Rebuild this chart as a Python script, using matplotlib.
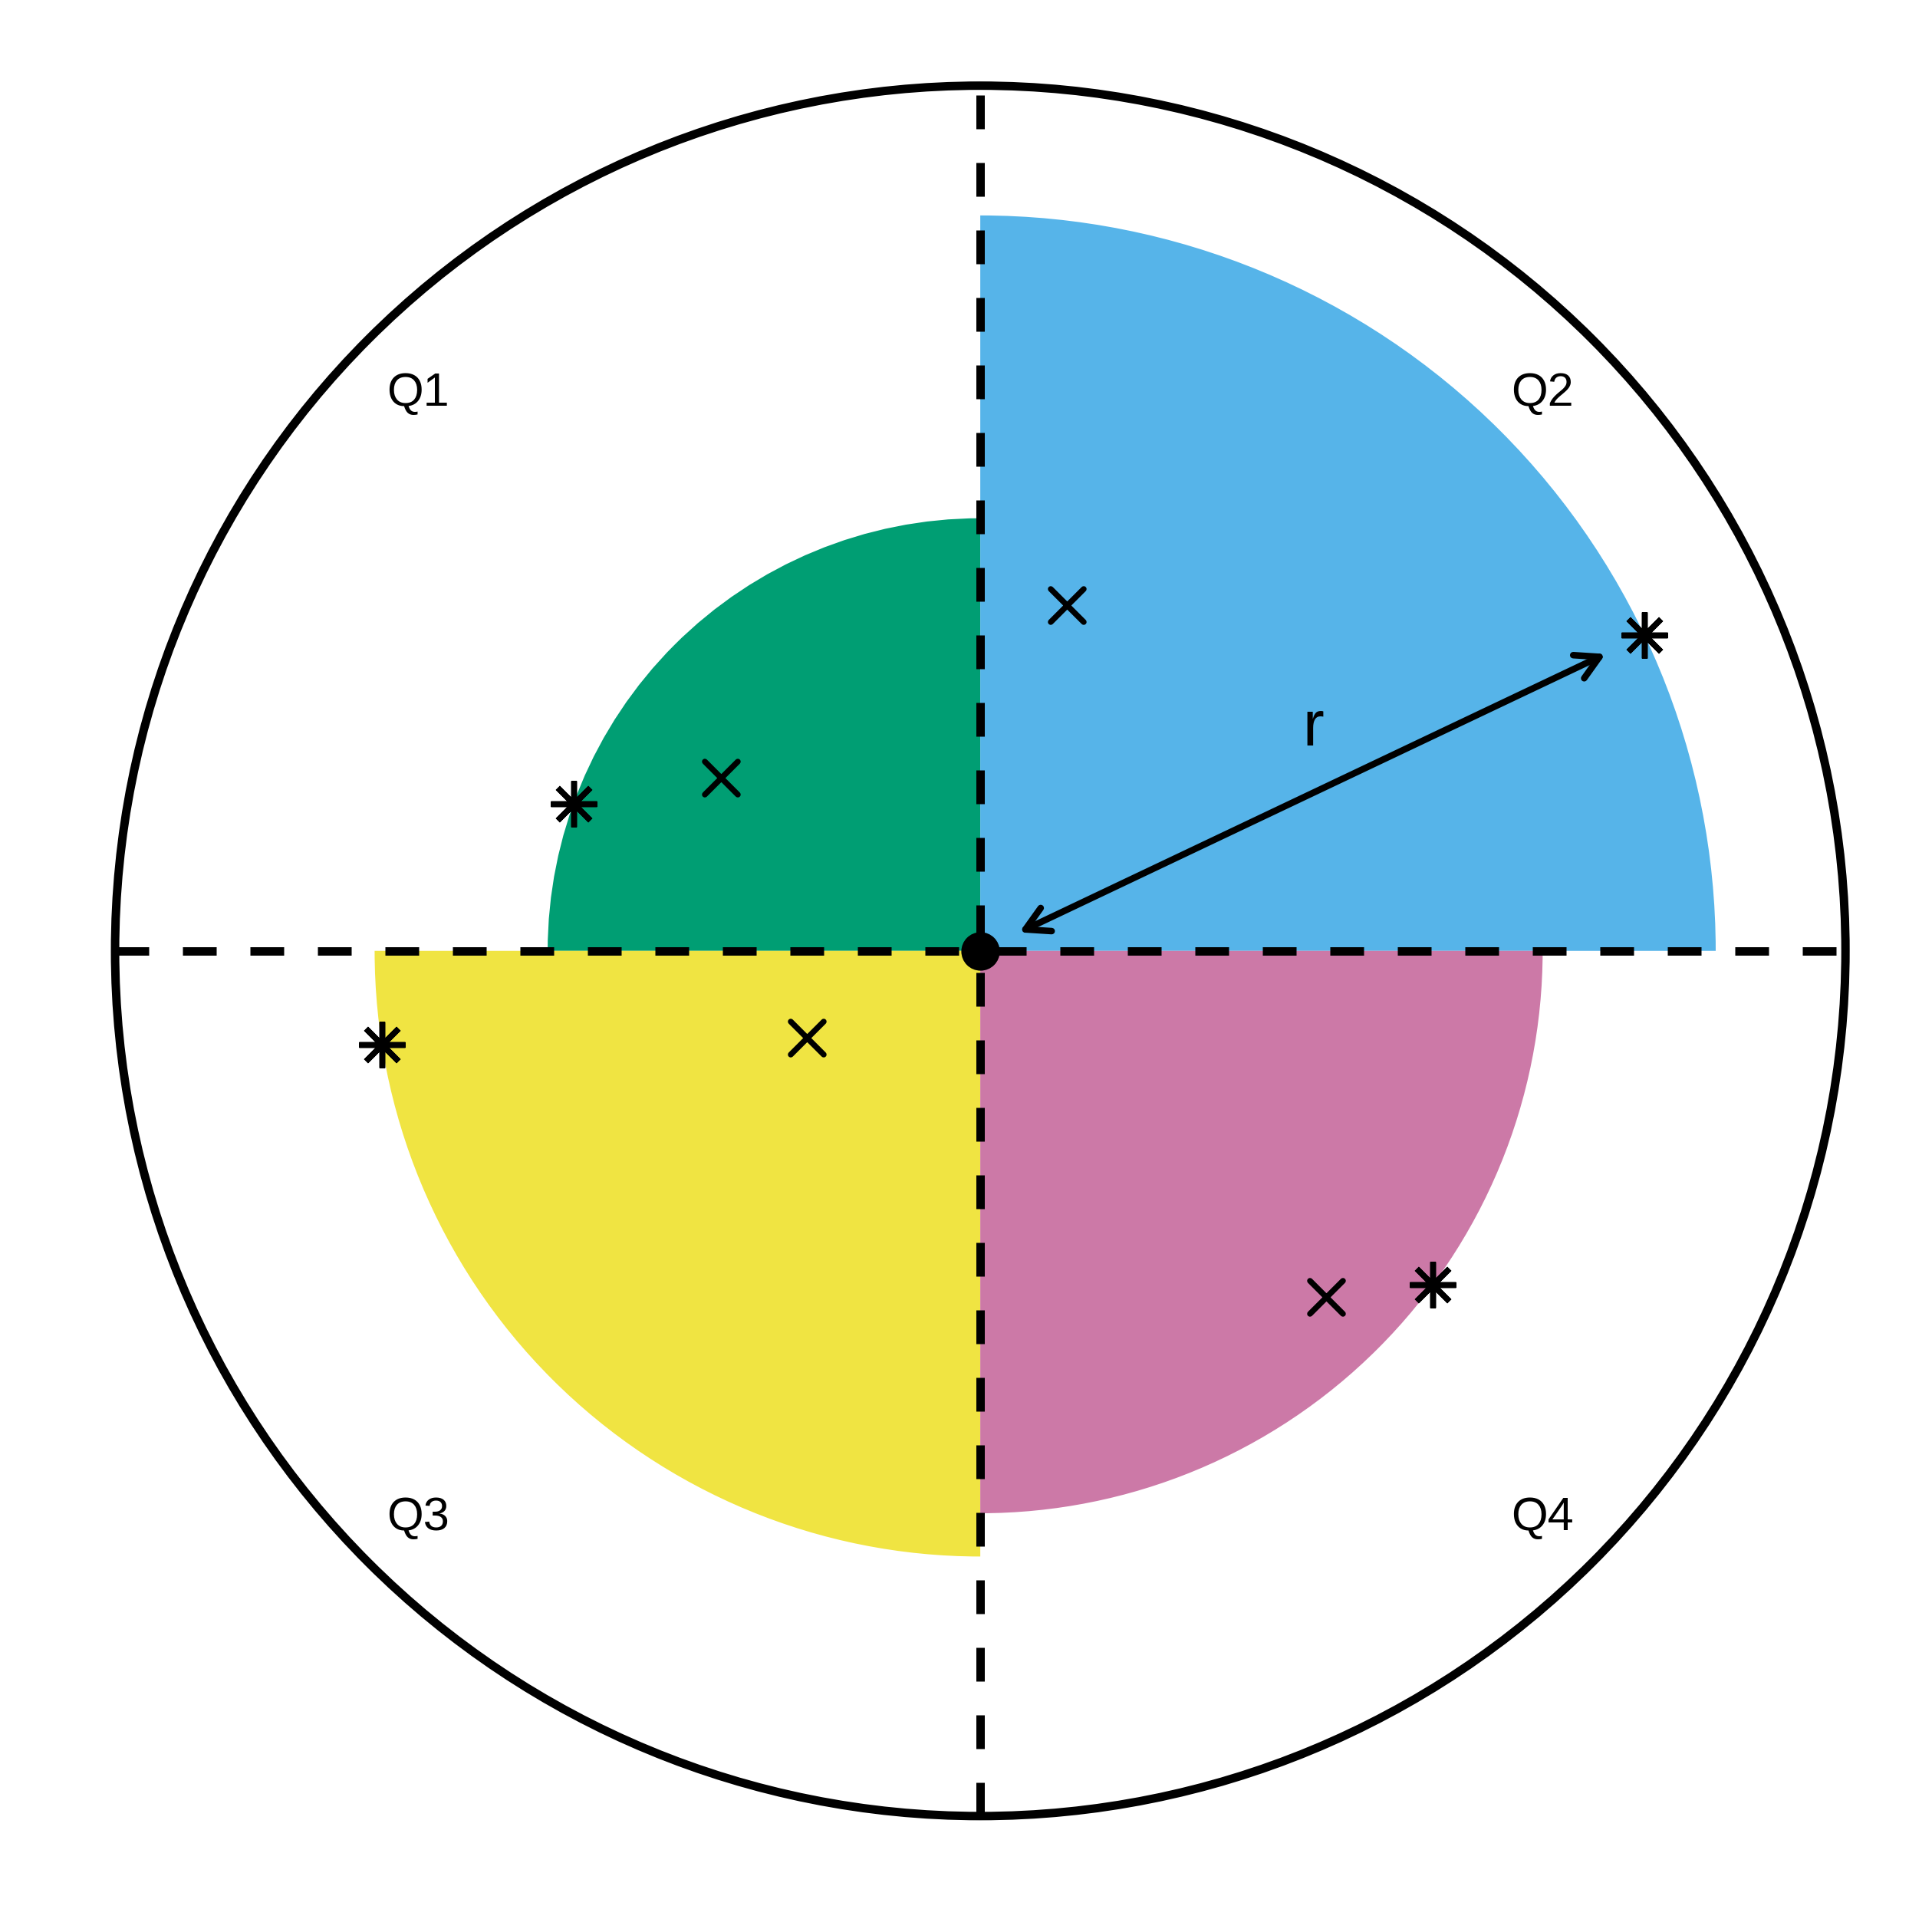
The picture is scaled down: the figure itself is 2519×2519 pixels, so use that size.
import numpy as np
import matplotlib
matplotlib.use('Agg')
import matplotlib.pyplot as plt
from matplotlib.patches import Wedge, Circle, FancyArrowPatch
from matplotlib.markers import MarkerStyle

plt.rcParams['font.family'] = ['Liberation Sans', 'DejaVu Sans']

# quadrants: label, start angle, end angle (deg), sector radius, colour
quadrants = ['Q1', 'Q2', 'Q3', 'Q4']
theta_start = [90, 0, 180, 270]
theta_end = [180, 90, 270, 360]
radii = [0.5, 0.85, 0.7, 0.65]
colors = ['#009E73', '#56B4E9', '#F0E442', '#CC79A7']

# label positions
label_x = [-0.65, 0.65, -0.65, 0.65]
label_y = [0.65, 0.65, -0.65, -0.65]

# cross points
cross_x = [-0.3, 0.1, -0.2, 0.4]
cross_y = [0.2, 0.4, -0.1, -0.4]

# asterisk points: angle (deg) on the sector edge
star_angle = [160.1, 25.4, 188.9, -36.4]

# radius arrow in Q2
arrow_r = [0.05, 0.80]
r_label = (0.385, 0.237)

px = 72 / 300  # one pixel in points at 300 dpi
lw = 11 * px

fig = plt.figure(figsize=(2519 / 300, 2519 / 300), dpi=300)
ax = fig.add_axes([0, 0, 1, 1])
ax.set_xlim(-1.133, 1.100)
ax.set_ylim(-1.134, 1.099)
ax.set_aspect('equal')
ax.axis('off')

for t0, t1, r, c in zip(theta_start, theta_end, radii, colors):
    ax.add_patch(Wedge((0, 0), r, t0, t1, facecolor=c, edgecolor='none', zorder=1))

ax.plot([0, 0], [-1, 1], color='black', lw=lw, linestyle=(0, (4, 4)),
        solid_capstyle='butt', dash_capstyle='butt', zorder=2)
ax.plot([-1, 1], [0, 0], color='black', lw=lw, linestyle=(0, (4, 4)),
        solid_capstyle='butt', dash_capstyle='butt', zorder=2)

ax.add_patch(Circle((0, 0), 1, fill=False, edgecolor='black', lw=lw, zorder=3))

xm = MarkerStyle('x', capstyle='round')
ax.plot(cross_x, cross_y, linestyle='none', marker=xm, ms=43 * px,
        mew=7.5 * px, color='black', zorder=4)

sa = np.radians(star_angle)
star_x = np.array(radii) * np.cos(sa)
star_y = np.array(radii) * np.sin(sa)
am = MarkerStyle((8, 2, 0), capstyle='round')
ax.plot(star_x, star_y, linestyle='none', marker=am, ms=60 * px,
        mew=7.5 * px, color='black', zorder=4)

a = np.radians(star_angle[1])
p0 = (arrow_r[0] * np.cos(a), arrow_r[0] * np.sin(a))
p1 = (arrow_r[1] * np.cos(a), arrow_r[1] * np.sin(a))
arr = FancyArrowPatch(p0, p1, arrowstyle='<->,head_length=0.36,head_width=0.2',
                      mutation_scale=20, lw=8.5 * px, color='black',
                      shrinkA=0, shrinkB=0, zorder=5)
ax.add_patch(arr)

ax.plot([0], [0], 'o', color='black', ms=46 * px, zorder=6)

for lab, x, y in zip(quadrants, label_x, label_y):
    ax.annotate(lab, (x, y), xytext=(0, -5.3), textcoords='offset points',
                ha='center', va='baseline', fontsize=14.7, zorder=7)

ax.text(r_label[0], r_label[1], 'r', ha='center', va='baseline', fontsize=20, zorder=7)

fig.savefig('out.png', dpi=300, facecolor='white')
